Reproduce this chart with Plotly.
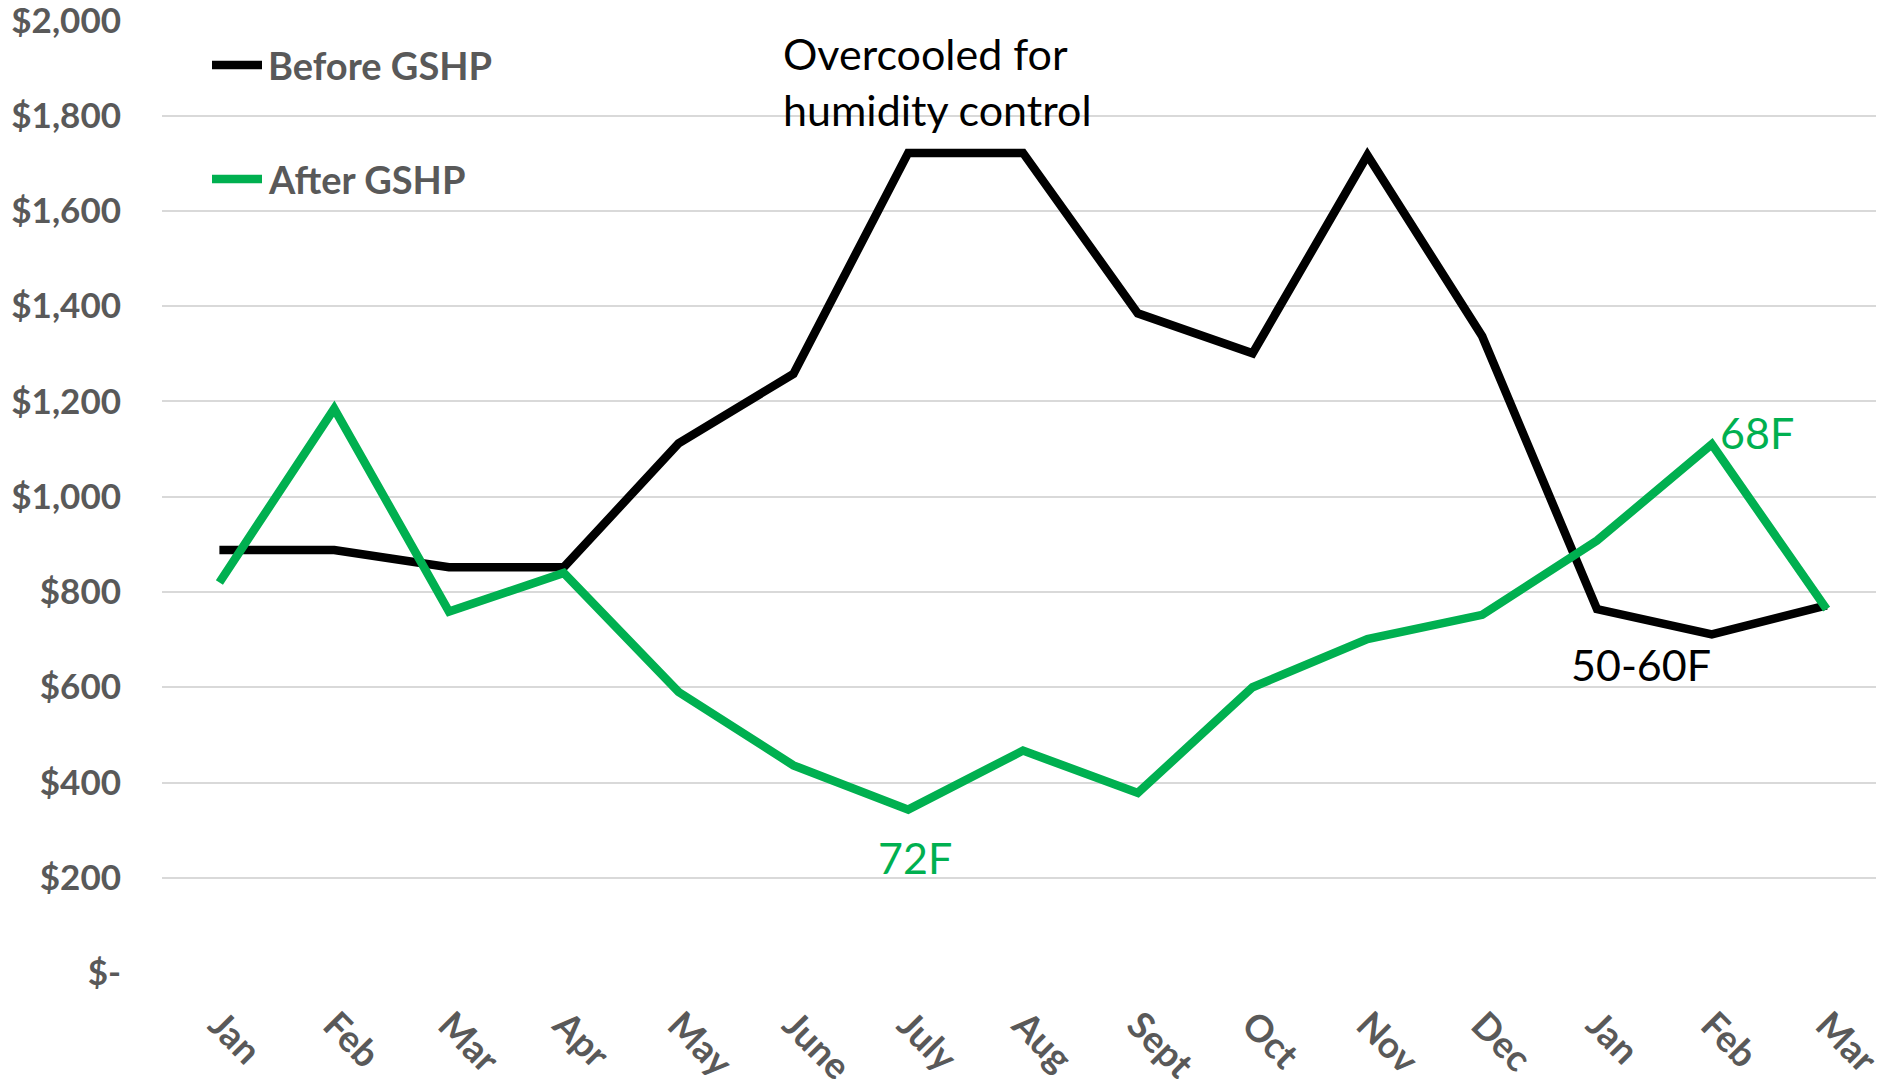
import plotly.graph_objects as go

months = ["Jan", "Feb", "Mar", "Apr", "May", "June", "July", "Aug", "Sept", "Oct", "Nov", "Dec", "Jan", "Feb", "Mar"]
before_gshp = [888, 888, 852, 852, 1112, 1258, 1722, 1722, 1385, 1301, 1717, 1337, 764, 711, 772]
after_gshp = [820, 1185, 759, 840, 590, 436, 343, 467, 378, 600, 701, 752, 908, 1110, 764]
y_ticks = [0, 200, 400, 600, 800, 1000, 1200, 1400, 1600, 1800, 2000]
y_tick_labels = ["$-", "$200", "$400", "$600", "$800", "$1,000", "$1,200", "$1,400", "$1,600", "$1,800", "$2,000"]
series_names = ["Before GSHP", "After GSHP"]

x_idx = list(range(len(months)))
FONT = "Lato"
GRAY = "#595959"
GREEN = "#00B050"
colors = ["black", GREEN]
LW = 8.5

fig = go.Figure()
for name, vals, col in zip(series_names, [before_gshp, after_gshp], colors):
    fig.add_trace(go.Scatter(x=x_idx, y=vals, mode="lines", name=name,
                             line=dict(color=col, width=LW), showlegend=False))

# page body has an 8px margin: compensate so the plot lands where the reference's does
OFF = 8
W, H = 1884 - OFF, 1089 - OFF
ML, MR, MT, MB = 162 - OFF, 0, 20 - OFF, 116
pw, ph = W - ML - MR, H - MT - MB
def px(xp):
    return (xp - OFF - ML) / pw
def py(yp):
    return 1 - (yp - OFF - MT) / ph

shapes = []
annotations = []
for name, col, ypix in zip(series_names, colors, [65, 179]):
    shapes.append(dict(type="line", xref="paper", yref="paper", x0=px(212), x1=px(262),
                       y0=py(ypix), y1=py(ypix), line=dict(color=col, width=LW)))
    annotations.append(dict(xref="paper", yref="paper", x=px(266), y=py(ypix), text=name,
                            showarrow=False, xanchor="left", yanchor="middle",
                            font=dict(family=FONT, size=38, color=GRAY, weight="bold")))

annotations += [
    dict(x=4.89, y=1872, xref="x", yref="y", text="Overcooled for<br>humidity control",
         showarrow=False, xanchor="left", yanchor="middle", align="left",
         font=dict(family=FONT, size=43, color="black")),
    dict(x=6.06, y=242, xref="x", yref="y", text="72F", showarrow=False,
         xanchor="center", yanchor="middle", font=dict(family=FONT, size=43, color=GREEN)),
    dict(x=13.05, y=1135, xref="x", yref="y", text="68F", showarrow=False,
         xanchor="left", yanchor="middle", font=dict(family=FONT, size=43, color=GREEN)),
    dict(x=12.38, y=648, xref="x", yref="y", text="50-60F", showarrow=False,
         xanchor="center", yanchor="middle", font=dict(family=FONT, size=43, color="black")),
]

fig.update_layout(
    width=W, height=H,
    margin=dict(l=ML, r=MR, t=MT, b=MB, autoexpand=False),
    plot_bgcolor="white", paper_bgcolor="white",
    font=dict(family=FONT),
    showlegend=False,
    xaxis=dict(range=[-0.5, 14.5], tickvals=x_idx, ticktext=months, tickangle=45,
               showgrid=False, zeroline=False, showline=False, ticks="", automargin=False,
               tickfont=dict(family=FONT, size=37, color=GRAY, weight="bold"),
               ticklabelstandoff=22, ticklabeloverflow="allow"),
    yaxis=dict(range=[0, 2001], tickvals=y_ticks, ticktext=y_tick_labels, automargin=False,
               showgrid=True, gridcolor="#D9D9D9", gridwidth=2, zeroline=False, showline=False,
               ticks="", tickfont=dict(family=FONT, size=35, color=GRAY, weight="bold"),
               ticklabelstandoff=40, ticklabeloverflow="allow"),
    shapes=shapes,
    annotations=annotations,
)

fig.write_html("out.html")
